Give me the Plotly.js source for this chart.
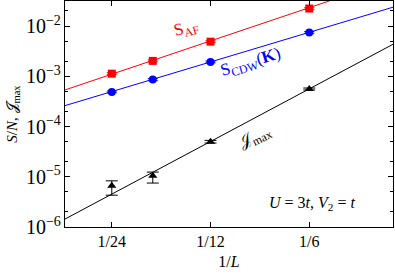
<!DOCTYPE html>
<html><head><meta charset="utf-8">
<script src="https://cdn.plot.ly/plotly-3.0.1.min.js"></script>
<style>body{margin:0;padding:0;background:#fff}#chart{width:395px;height:277px}</style>
</head><body><div id="chart"></div>
<script>
const invL = [1/24, 1/18, 1/12, 1/6];
const tickVals = [1/24, 1/12, 1/6];
const tickText = ['1/24', '1/12', '1/6'];
const sAF = [1.13e-3, 2.03e-3, 4.9e-3, 2.24e-2];
const sAFerr = [5e-5, 9e-5, 2e-4, 9e-4];
const sCDW = [4.9e-4, 8.6e-4, 1.94e-3, 7.5e-3];
const sCDWerr = [2e-5, 4e-5, 8e-5, 3e-4];
const jMax = [6.6e-6, 1.05e-5, 5.0e-5, 5.6e-4];
const jMaxErrPlus = [1.7e-6, 1.9e-6, 3e-6, 2.5e-5];
const jMaxErrMinus = [2.3e-6, 3.0e-6, 3e-6, 2.5e-5];
// power-law fits y = a * x^b
const fitA = [1.2, 0.252, 0.287];
const fitB = [2.2, 1.96, 3.48];
const fitX = [0.03, 0.3];

const colors = ['#ff0000', '#0000ff', '#000000'];
const fitTraces = fitA.map((a, i) => ({
  x: fitX, y: fitX.map(x => a * Math.pow(x, fitB[i])),
  mode: 'lines', line: {color: colors[i], width: 1}, hoverinfo: 'skip', showlegend: false
}));
const pts = [
  {x: invL, y: sAF, mode: 'markers', marker: {symbol: 'square', size: 8, color: colors[0]},
   error_y: {type: 'data', array: sAFerr, color: colors[0], thickness: 1, width: 5}},
  {x: invL, y: sCDW, mode: 'markers', marker: {symbol: 'circle', size: 8, color: colors[1]},
   error_y: {type: 'data', array: sCDWerr, color: colors[1], thickness: 1, width: 5}},
  {x: invL, y: jMax, mode: 'markers', marker: {symbol: 'triangle-up', size: 8, color: colors[2]},
   error_y: {type: 'data', symmetric: false, array: jMaxErrPlus, arrayminus: jMaxErrMinus, color: colors[2], thickness: 1, width: 6}}
];
const F = 'Liberation Serif, DejaVu Serif, serif';
const ann = (x, y, text, color, angle, size) => ({
  xref: 'paper', yref: 'paper', x: x, y: y, xanchor: 'center', yanchor: 'middle',
  text: text, showarrow: false, font: {family: F, size: size, color: color}, textangle: angle
});
const layout = {
  width: 395, height: 277,
  margin: {l: 65, r: 2, t: 1, b: 50},
  paper_bgcolor: '#fff', plot_bgcolor: '#fff',
  showlegend: false,
  font: {family: F, size: 16, color: '#000'},
  xaxis: {
    type: 'log', range: [Math.log10(0.03), Math.log10(0.3)],
    tickvals: tickVals, ticktext: tickText,
    ticks: 'inside', ticklen: 5, tickcolor: '#000',
    showline: true, linecolor: '#000', linewidth: 1, mirror: 'ticks',
    showgrid: false, zeroline: false,
    tickfont: {family: F, size: 16},
    title: {text: '1/<i>L</i>', font: {family: F, size: 16}, standoff: 6}
  },
  yaxis: {
    type: 'log', range: [-6, -1.5],
    dtick: 1, exponentformat: 'power', showexponent: 'all',
    ticks: 'inside', ticklen: 5, tickcolor: '#000',
    minor: {dtick: 'D2', ticks: 'inside', ticklen: 3, tickcolor: '#000', showgrid: false},
    showline: true, linecolor: '#000', linewidth: 1, mirror: 'ticks',
    showgrid: false, zeroline: false,
    tickfont: {family: F, size: 16},
    title: {text: '<i>S</i>/<i>N</i>, 𝒥<sub>max</sub>', font: {family: F, size: 15}, standoff: 4}
  },
  annotations: [
    ann(0.369, 0.876, 'S<sub>AF</sub>', colors[0], -15, 17),
    ann(0.567, 0.726, 'S<sub>CDW</sub>(<b>K</b>)', colors[1], -17, 17),
    ann(0.582, 0.398, '𝒥<sub>max</sub>', colors[2], -26, 17),
    ann(0.753, 0.106, '<i>U</i> = 3<i>t</i>, <i>V</i><sub>2</sub> = <i>t</i>', '#000', 0, 16)
  ]
};
Plotly.newPlot('chart', fitTraces.concat(pts), layout, {staticPlot: true, displayModeBar: false});
</script></body></html>
